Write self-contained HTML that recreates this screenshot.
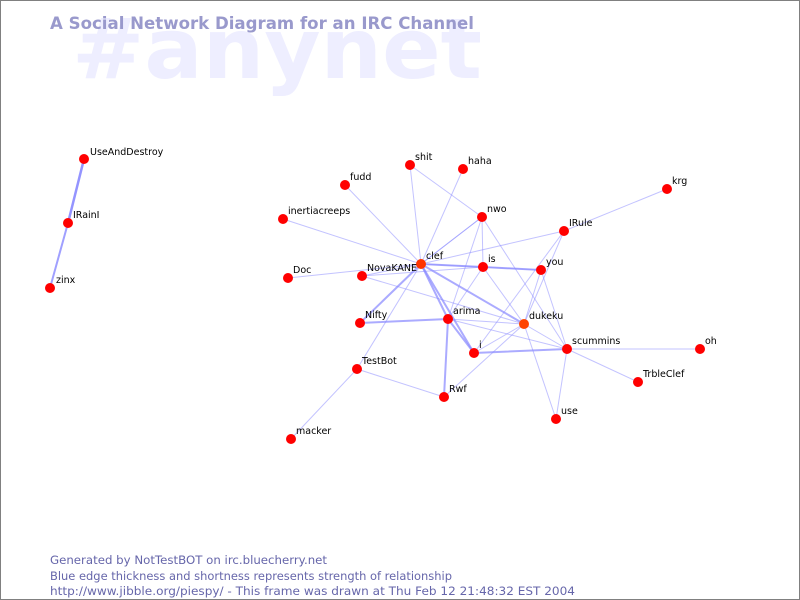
<!DOCTYPE html>
<html><head><meta charset="utf-8"><style>
html,body{margin:0;padding:0;background:#fff}
svg{display:block}
text{font-family:"DejaVu Sans","Liberation Sans",sans-serif}
</style></head><body>
<svg width="800" height="600" xmlns="http://www.w3.org/2000/svg">
<rect x="0.5" y="0.5" width="799" height="599" fill="#fff" stroke="#808080"/>
<text x="72" y="78" font-size="84" font-weight="bold" fill="#eeeeff" textLength="410" lengthAdjust="spacingAndGlyphs">#anynet</text>
<text x="50" y="29" font-size="17" font-weight="bold" fill="#9999cc" textLength="424" lengthAdjust="spacingAndGlyphs">A Social Network Diagram for an IRC Channel</text>
<g stroke="#8888ff" stroke-linecap="round">
<line x1="84" y1="159" x2="68" y2="223" stroke-width="2.5" stroke-opacity="0.9"/>
<line x1="68" y1="223" x2="50" y2="288" stroke-width="2" stroke-opacity="0.8"/>
<g stroke-width="1" stroke-opacity="0.5">
<line x1="421" y1="264" x2="345" y2="185"/>
<line x1="421" y1="264" x2="410" y2="165"/>
<line x1="421" y1="264" x2="463" y2="169"/>
<line x1="421" y1="264" x2="283" y2="219"/>
<line x1="421" y1="264" x2="564" y2="231"/>
<line x1="421" y1="264" x2="541" y2="270"/>
<line x1="421" y1="264" x2="362" y2="276"/>
<line x1="288" y1="278" x2="421" y2="264"/>
<line x1="421" y1="264" x2="357" y2="369"/>
<line x1="421" y1="264" x2="482" y2="217"/>
<line x1="410" y1="165" x2="482" y2="217"/>
<line x1="482" y1="217" x2="483" y2="267"/>
<line x1="482" y1="217" x2="448" y2="319"/>
<line x1="482" y1="217" x2="567" y2="349"/>
<line x1="482" y1="217" x2="421" y2="264"/>
<line x1="483" y1="267" x2="448" y2="319"/>
<line x1="483" y1="267" x2="524" y2="324"/>
<line x1="541" y1="270" x2="524" y2="324"/>
<line x1="541" y1="270" x2="567" y2="349"/>
<line x1="564" y1="231" x2="524" y2="324"/>
<line x1="564" y1="231" x2="667" y2="189"/>
<line x1="564" y1="231" x2="474" y2="353"/>
<line x1="362" y1="276" x2="524" y2="324"/>
<line x1="362" y1="276" x2="483" y2="267"/>
<line x1="448" y1="319" x2="524" y2="324"/>
<line x1="448" y1="319" x2="567" y2="349"/>
<line x1="474" y1="353" x2="524" y2="324"/>
<line x1="524" y1="324" x2="444" y2="397"/>
<line x1="524" y1="324" x2="556" y2="419"/>
<line x1="524" y1="324" x2="567" y2="349"/>
<line x1="567" y1="349" x2="700" y2="349"/>
<line x1="567" y1="349" x2="638" y2="382"/>
<line x1="567" y1="349" x2="556" y2="419"/>
<line x1="357" y1="369" x2="444" y2="397"/>
<line x1="357" y1="369" x2="291" y2="439"/>
</g>
<g stroke-width="2" stroke-opacity="0.7">
<line x1="421" y1="264" x2="483" y2="267"/>
<line x1="483" y1="267" x2="541" y2="270"/>
<line x1="421" y1="264" x2="360" y2="323"/>
<line x1="421" y1="264" x2="448" y2="319"/>
<line x1="421" y1="264" x2="474" y2="353"/>
<line x1="421" y1="264" x2="524" y2="324"/>
<line x1="360" y1="323" x2="448" y2="319"/>
<line x1="448" y1="319" x2="444" y2="397"/>
<line x1="448" y1="319" x2="474" y2="353"/>
<line x1="474" y1="353" x2="567" y2="349"/>
</g>
</g>
<g fill="#ff0000">
<circle cx="84" cy="159" r="5"/><circle cx="68" cy="223" r="5"/><circle cx="50" cy="288" r="5"/>
<circle cx="345" cy="185" r="5"/><circle cx="410" cy="165" r="5"/><circle cx="463" cy="169" r="5"/>
<circle cx="283" cy="219" r="5"/><circle cx="482" cy="217" r="5"/><circle cx="564" cy="231" r="5"/>
<circle cx="667" cy="189" r="5"/><circle cx="483" cy="267" r="5"/><circle cx="541" cy="270" r="5"/>
<circle cx="288" cy="278" r="5"/><circle cx="362" cy="276" r="5"/><circle cx="360" cy="323" r="5"/>
<circle cx="448" cy="319" r="5"/><circle cx="474" cy="353" r="5"/><circle cx="567" cy="349" r="5"/>
<circle cx="700" cy="349" r="5"/><circle cx="638" cy="382" r="5"/><circle cx="357" cy="369" r="5"/>
<circle cx="444" cy="397" r="5"/><circle cx="556" cy="419" r="5"/><circle cx="291" cy="439" r="5"/>
</g>
<circle cx="421" cy="264" r="5" fill="#ff3300"/>
<circle cx="524" cy="324" r="5" fill="#ff4400"/>
<g font-size="9.5" fill="#000">
<text x="90" y="155">UseAndDestroy</text><text x="73" y="218">IRainI</text><text x="56" y="283">zinx</text>
<text x="350" y="180">fudd</text><text x="415" y="160">shit</text><text x="468" y="164">haha</text>
<text x="288" y="214">inertiacreeps</text><text x="487" y="212">nwo</text><text x="569" y="226">IRule</text>
<text x="672" y="184">krg</text><text x="426" y="259">clef</text><text x="488" y="262">is</text>
<text x="546" y="265">you</text><text x="293" y="273">Doc</text><text x="367" y="271">NovaKANE</text>
<text x="365" y="318">Nifty</text><text x="453" y="314">arima</text><text x="529" y="319">dukeku</text>
<text x="479" y="348">i</text><text x="572" y="344">scummins</text><text x="705" y="344">oh</text>
<text x="643" y="377">TrbleClef</text><text x="362" y="364">TestBot</text><text x="449" y="392">Rwf</text>
<text x="561" y="414">use</text><text x="296" y="434">macker</text>
</g>
<g font-size="11.5" fill="#6666aa">
<text x="50" y="564" textLength="277" lengthAdjust="spacingAndGlyphs">Generated by NotTestBOT on irc.bluecherry.net</text>
<text x="50" y="580" textLength="402" lengthAdjust="spacingAndGlyphs">Blue edge thickness and shortness represents strength of relationship</text>
<text x="50" y="595" textLength="525" lengthAdjust="spacingAndGlyphs">http://www.jibble.org/piespy/ - This frame was drawn at Thu Feb 12 21:48:32 EST 2004</text>
</g>
</svg>
</body></html>
